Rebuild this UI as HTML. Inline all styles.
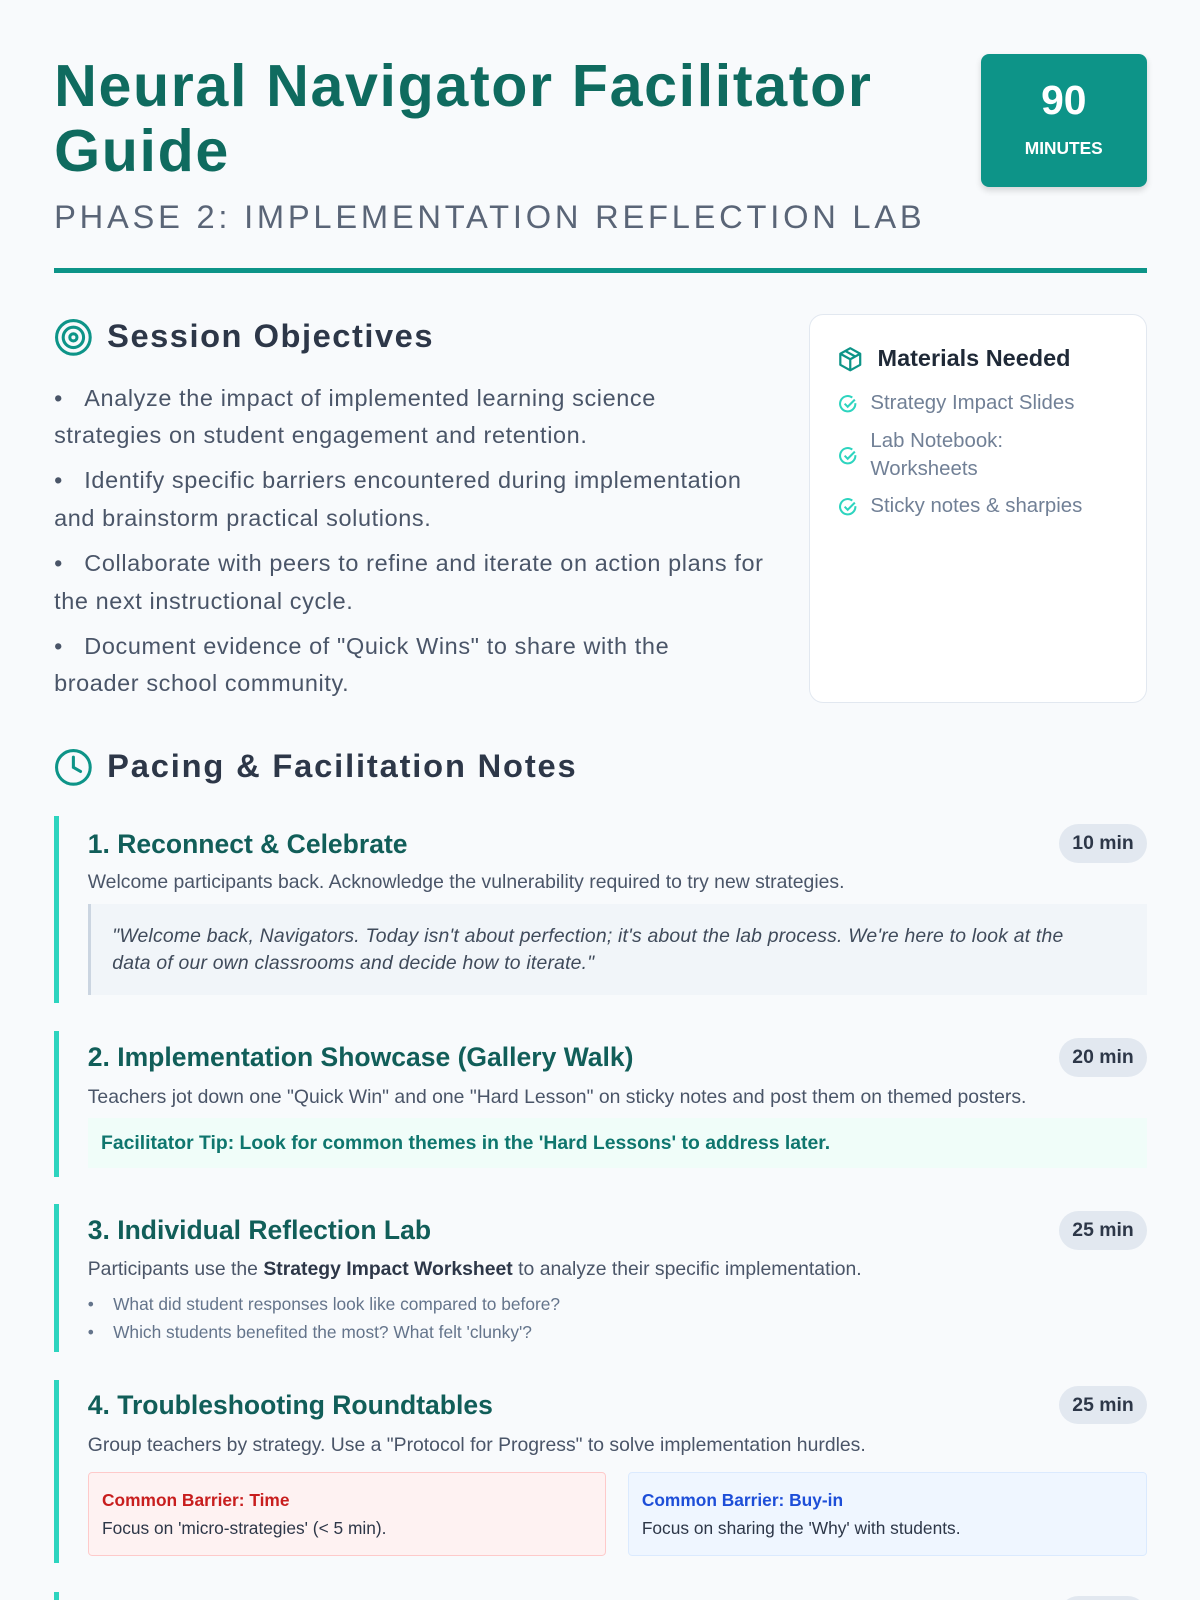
<!DOCTYPE html>
<html><head><meta charset="utf-8"><style>
html,body{margin:0;padding:0;background:#f8fafc;}
#w{position:relative;width:1176px;height:1568px;zoom:1.020408;overflow:hidden;font-family:"Liberation Sans",sans-serif;color:#4a5568;}
.a{position:absolute;white-space:nowrap;}
h1{position:absolute;left:53px;top:52px;margin:0;font-size:58px;line-height:64px;font-weight:bold;color:#0f6b5f;letter-spacing:1.6px;}
.pill{position:absolute;right:52px;height:38px;line-height:38px;padding:0 13px;background:#e2e8f0;border-radius:19px;font-size:19px;font-weight:bold;color:#2d3748;}
.bar{position:absolute;left:53px;width:5px;background:#2dd4bf;}
.t{position:absolute;left:86px;font-size:26px;font-weight:bold;color:#115e59;line-height:30px;}
.d{position:absolute;left:86px;font-size:19px;color:#4a5568;line-height:24px;white-space:nowrap;}
.obj{position:absolute;left:53px;width:715px;font-size:23px;line-height:37px;color:#4a5568;letter-spacing:0.6px;}
.mi{position:absolute;left:853px;font-size:20px;line-height:28px;color:#718096;}
.ck{position:absolute;left:821px;}
</style></head><body><div id="w">
<h1>Neural Navigator Facilitator<br>Guide</h1>
<div class="a" style="left:53px;top:194px;font-size:32px;letter-spacing:3.7px;color:#5a6577;line-height:38px;">PHASE 2: IMPLEMENTATION REFLECTION LAB</div>
<div class="a" style="left:961px;top:53px;width:163px;height:130px;background:#0d9488;border-radius:8px;box-shadow:0 3px 6px rgba(0,0,0,.15);color:#fff;text-align:center;">
<div style="font-size:40px;font-weight:bold;margin-top:22px;line-height:46px;">90</div>
<div style="font-size:17px;font-weight:bold;margin-top:14px;">MINUTES</div></div>
<div class="a" style="left:53px;top:263px;width:1071px;height:5px;background:#0d9488;"></div>

<svg class="a" style="left:53px;top:312px" width="38" height="38" viewBox="0 0 38 38" fill="none" stroke="#0d9488" stroke-width="3"><circle cx="19" cy="19" r="16.5"/><circle cx="19" cy="19" r="10"/><circle cx="19" cy="19" r="3.5"/></svg>
<div class="a" style="left:105px;top:311px;font-size:32px;font-weight:bold;color:#2d3748;line-height:38px;letter-spacing:1.5px;">Session Objectives</div>

<div class="obj" style="top:372px;width:700px;">•&nbsp;&nbsp;&nbsp;Analyze the impact of implemented learning science strategies on student engagement and retention.</div>
<div class="obj" style="top:453px;width:715px;">•&nbsp;&nbsp;&nbsp;Identify specific barriers encountered during implementation and brainstorm practical solutions.</div>
<div class="obj" style="top:534px;width:715px;">•&nbsp;&nbsp;&nbsp;Collaborate with peers to refine and iterate on action plans for the next instructional cycle.</div>
<div class="obj" style="top:615px;width:680px;">•&nbsp;&nbsp;&nbsp;Document evidence of "Quick Wins" to share with the broader school community.</div>

<div class="a" style="left:793px;top:308px;width:329px;height:379px;background:#fff;border:1px solid #e2e8f0;border-radius:14px;"></div>
<svg class="a" style="left:820px;top:339px" width="26" height="26" viewBox="0 0 24 24" fill="none" stroke="#0d9488" stroke-width="2" stroke-linejoin="round"><path d="M12 2l9 5v10l-9 5-9-5V7z"/><path d="M3 7l9 5 9-5M12 12v10M7.5 4.5l9 5"/></svg>
<div class="a" style="left:860px;top:337px;font-size:23px;font-weight:bold;color:#1f2937;line-height:28px;">Materials Needed</div>
<svg class="ck" style="top:386px" width="20" height="20" viewBox="0 0 20 20" fill="none" stroke="#2dd4bf" stroke-width="2"><path d="M17 9a7.5 7.5 0 1 1-3-5.5"/><path d="M6.5 9.5l3 3 7-7"/></svg>
<div class="mi" style="top:381px;">Strategy Impact Slides</div>
<svg class="ck" style="top:437px" width="20" height="20" viewBox="0 0 20 20" fill="none" stroke="#2dd4bf" stroke-width="2"><path d="M17 9a7.5 7.5 0 1 1-3-5.5"/><path d="M6.5 9.5l3 3 7-7"/></svg>
<div class="mi" style="top:418px;">Lab Notebook:<br>Worksheets</div>
<svg class="ck" style="top:487px" width="20" height="20" viewBox="0 0 20 20" fill="none" stroke="#2dd4bf" stroke-width="2"><path d="M17 9a7.5 7.5 0 1 1-3-5.5"/><path d="M6.5 9.5l3 3 7-7"/></svg>
<div class="mi" style="top:482px;">Sticky notes &amp; sharpies</div>

<svg class="a" style="left:53px;top:733px" width="38" height="38" viewBox="0 0 38 38" fill="none" stroke="#0d9488" stroke-width="3"><circle cx="19" cy="19" r="16.5"/><path d="M19 9v10l7 4" stroke-linecap="round"/></svg>
<div class="a" style="left:105px;top:732px;font-size:32px;font-weight:bold;color:#2d3748;line-height:38px;letter-spacing:1.8px;">Pacing &amp; Facilitation Notes</div>

<!-- 1 -->
<div class="bar" style="top:800px;height:183px;"></div>
<div class="t" style="top:812px;">1. Reconnect &amp; Celebrate</div>
<div class="pill" style="top:808px;">10 min</div>
<div class="d" style="top:853px;">Welcome participants back. Acknowledge the vulnerability required to try new strategies.</div>
<div class="a" style="left:86px;top:886px;width:1038px;height:89px;background:#f1f5f9;border-left:3px solid #cbd5e1;box-sizing:border-box;"></div>
<div class="a" style="left:110px;top:905px;font-size:19px;line-height:26px;font-style:italic;color:#3f4a5a;white-space:normal;width:950px;letter-spacing:0.2px;">"Welcome back, Navigators. Today isn't about perfection; it's about the lab process. We're here to look at the data of our own classrooms and decide how to iterate."</div>

<!-- 2 -->
<div class="bar" style="top:1010px;height:143px;"></div>
<div class="t" style="top:1021px;">2. Implementation Showcase (Gallery Walk)</div>
<div class="pill" style="top:1017px;">20 min</div>
<div class="d" style="top:1063px;">Teachers jot down one "Quick Win" and one "Hard Lesson" on sticky notes and post them on themed posters.</div>
<div class="a" style="left:86px;top:1096px;width:1038px;height:49px;background:#f0fdf9;"></div>
<div class="a" style="left:99px;top:1108px;font-size:19px;font-weight:bold;color:#0f766e;line-height:24px;">Facilitator Tip: Look for common themes in the 'Hard Lessons' to address later.</div>

<!-- 3 -->
<div class="bar" style="top:1180px;height:145px;"></div>
<div class="t" style="top:1191px;">3. Individual Reflection Lab</div>
<div class="pill" style="top:1187px;">25 min</div>
<div class="d" style="top:1232px;">Participants use the <b style="color:#2d3748">Strategy Impact Worksheet</b> to analyze their specific implementation.</div>
<div class="a" style="left:86px;top:1267px;font-size:17px;line-height:22px;color:#64748b;">•&nbsp;&nbsp;&nbsp;&nbsp;What did student responses look like compared to before?</div>
<div class="a" style="left:86px;top:1295px;font-size:17px;line-height:22px;color:#64748b;">•&nbsp;&nbsp;&nbsp;&nbsp;Which students benefited the most? What felt 'clunky'?</div>

<!-- 4 -->
<div class="bar" style="top:1352px;height:180px;"></div>
<div class="t" style="top:1362px;">4. Troubleshooting Roundtables</div>
<div class="pill" style="top:1358px;">25 min</div>
<div class="d" style="top:1404px;">Group teachers by strategy. Use a "Protocol for Progress" to solve implementation hurdles.</div>
<div class="a" style="left:86px;top:1443px;width:508px;height:82px;background:#fef2f2;border:1px solid #fecaca;border-radius:4px;box-sizing:border-box;"></div>
<div class="a" style="left:100px;top:1459px;font-size:17px;font-weight:bold;color:#c81e1e;line-height:22px;">Common Barrier: Time</div>
<div class="a" style="left:100px;top:1487px;font-size:17px;color:#2d3748;line-height:22px;">Focus on 'micro-strategies' (&lt; 5 min).</div>
<div class="a" style="left:615px;top:1443px;width:509px;height:82px;background:#eff6ff;border:1px solid #dbeafe;border-radius:4px;box-sizing:border-box;"></div>
<div class="a" style="left:629px;top:1459px;font-size:17px;font-weight:bold;color:#1d4ed8;line-height:22px;">Common Barrier: Buy-in</div>
<div class="a" style="left:629px;top:1487px;font-size:17px;color:#2d3748;line-height:22px;">Focus on sharing the 'Why' with students.</div>

<div class="bar" style="top:1560px;height:20px;"></div>
<div class="pill" style="top:1564px;width:60px;"></div>
</div></body></html>
